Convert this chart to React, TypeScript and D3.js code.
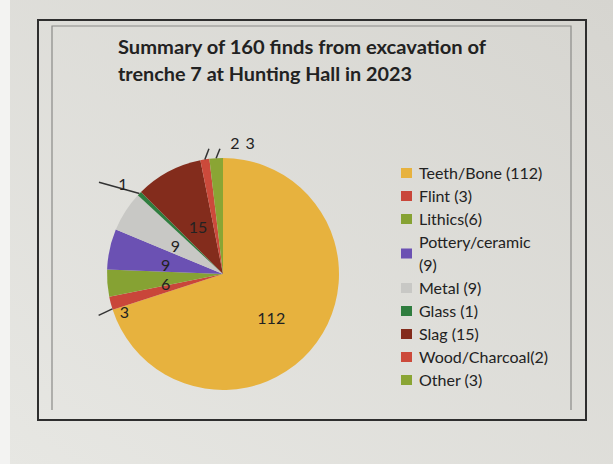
import React from "react";
import * as d3 from "d3";

const categories = ["Teeth/Bone", "Flint", "Lithics", "Pottery/ceramic", "Metal", "Glass", "Slag", "Wood/Charcoal", "Other"];
const values = [112, 3, 6, 9, 9, 1, 15, 2, 3];
const legendLines = [
  ["Teeth/Bone (112)"],
  ["Flint (3)"],
  ["Lithics(6)"],
  ["Pottery/ceramic", "(9)"],
  ["Metal (9)"],
  ["Glass (1)"],
  ["Slag (15)"],
  ["Wood/Charcoal(2)"],
  ["Other (3)"],
];
const titleLines = ["Summary of 160 finds from excavation of", "trenche 7 at Hunting Hall in 2023"];
const colors = ["#e7b23e", "#c9463a", "#86a233", "#6b51b3", "#c8c8c5", "#2f7d3f", "#832c1c", "#cc4a3b", "#8aa534"];

// label placement (angle in degrees clockwise from top, radius factor)
const labelPlace = [
  { a: 132, k: 0.56 },
  { a: 249, k: 0.91 },
  { a: 261, k: 0.5 },
  { a: 279, k: 0.5 },
  { a: 301, k: 0.48 },
  { a: 312, k: 1.16 },
  { a: 332, k: 0.46 },
  { a: 5.2, k: 1.14 },
  { a: 11.6, k: 1.16 },
];
const leaders: Record<number, { a0: number; a1: number; k1: number }> = {
  1: { a0: 252.5, a1: 251.6, k1: 1.13 },
  5: { a0: 313.9, a1: 306.5, k1: 1.33 },
  7: { a0: 351, a1: 353.6, k1: 1.087 },
  8: { a0: 356.6, a1: 358.6, k1: 1.08 },
};

const W = 613, H = 464;
const cx = 223, cy = 274, R = 116;

function polar(deg: number, r: number): [number, number] {
  const t = (deg * Math.PI) / 180;
  return [cx + r * Math.sin(t), cy - r * Math.cos(t)];
}

export default function App() {
  const pie = d3.pie<number>().sort(null).value((d) => d);
  const arcs = pie(values);
  const arc = d3.arc<d3.PieArcDatum<number>>().innerRadius(0).outerRadius(R);
  const font = "Lato, 'Open Sans', sans-serif";
  const textCol = "#222";

  const legendX = 401, legendTextX = 419, rowStart = 173, rowH = 23;
  let row = 0;
  const legendItems = legendLines.map((lines, i) => {
    const y0 = rowStart + row * rowH;
    const sqY = y0 + ((lines.length - 1) * rowH) / 2;
    row += lines.length;
    return (
      <g key={i}>
        <rect x={legendX} y={sqY - 5} width={11} height={10} fill={colors[i]} />
        {lines.map((ln, j) => (
          <text key={j} x={legendTextX} y={y0 + j * rowH + 5.5} fontSize={16} fill={textCol} fontFamily={font}>
            {ln}
          </text>
        ))}
      </g>
    );
  });

  return (
    <svg width={W} height={H} style={{ position: "absolute", left: 0, top: 0 }}>
      <defs>
        <linearGradient id="bg" x1="0" y1="1" x2="1" y2="0">
          <stop offset="0" stopColor="#e7e7e3" />
          <stop offset="1" stopColor="#d6d5d0" />
        </linearGradient>
      </defs>
      <rect x={0} y={0} width={W} height={H} fill="url(#bg)" />
      <rect x={0} y={0} width={10} height={H} fill="#f3f3f2" />
      <rect x={38} y={20} width={548} height={400} fill="none" stroke="#2e2e2e" strokeWidth={2} />
      <path d="M52,410 L52,26 L571,26 L571,410" fill="none" stroke="#8a8a88" strokeWidth={1.2} />

      {titleLines.map((t, i) => (
        <text key={i} x={118} y={54 + i * 27} fontSize={18} fontWeight={700} fill={textCol} fontFamily={font}
          textLength={i === 0 ? 368 : 294} lengthAdjust="spacingAndGlyphs">
          {t}
        </text>
      ))}

      <g transform={`translate(${cx},${cy})`}>
        {arcs.map((a, i) => (
          <path key={categories[i]} d={arc(a) || ""} fill={colors[i]} />
        ))}
      </g>

      {Object.entries(leaders).map(([k, l]) => {
        const [x0, y0] = polar(l.a0, R);
        const [x1, y1] = polar(l.a1, R * l.k1);
        return <line key={k} x1={x0} y1={y0} x2={x1} y2={y1} stroke="#333" strokeWidth={1.5} />;
      })}

      {arcs.map((a, i) => {
        const [x, y] = polar(labelPlace[i].a, R * labelPlace[i].k);
        return (
          <text key={i} x={x} y={y} textAnchor="middle" dominantBaseline="central" fontSize={16} fill={textCol} fontFamily={font}>
            {values[i]}
          </text>
        );
      })}

      {legendItems}
    </svg>
  );
}
